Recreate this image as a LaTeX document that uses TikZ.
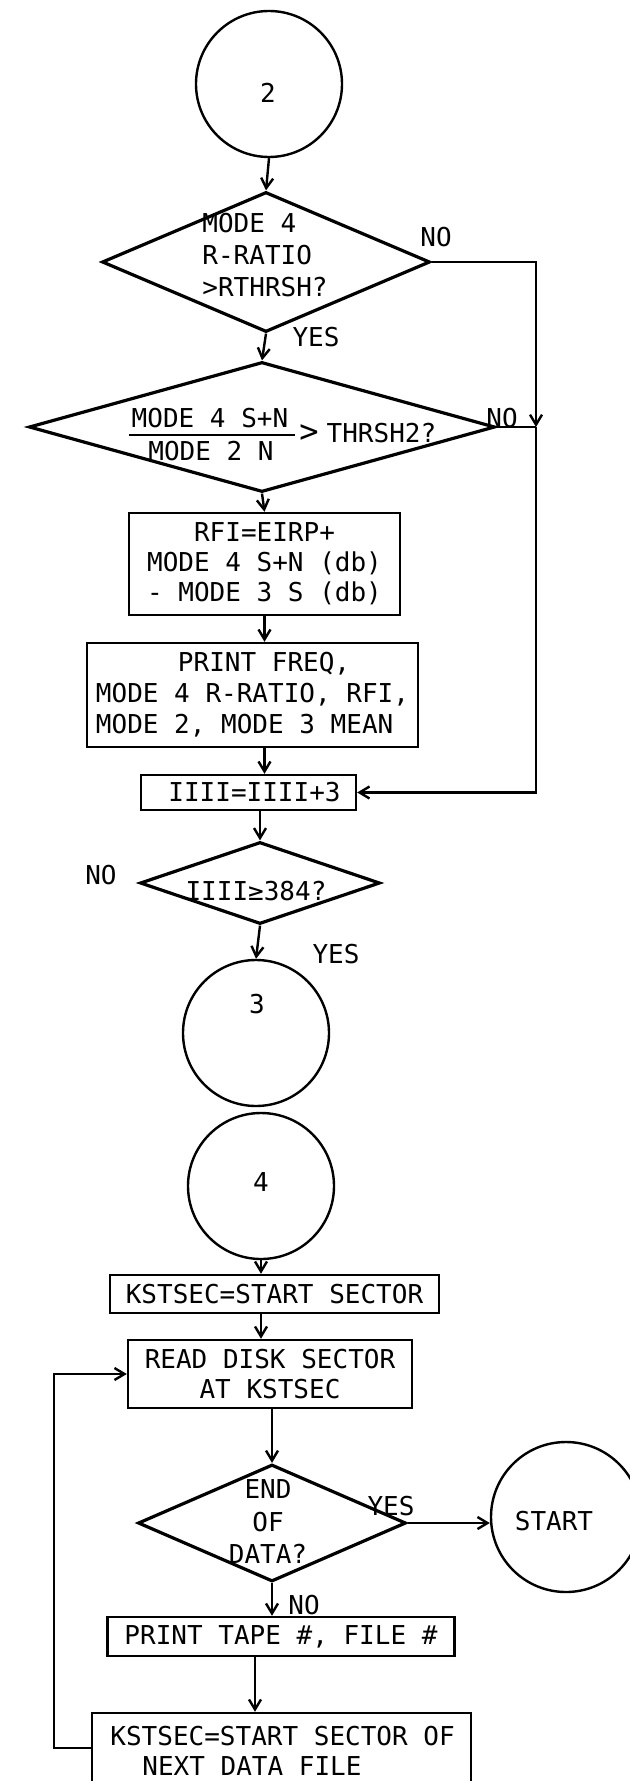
\documentclass[tikz,border=0pt]{standalone}
\usepackage{fontspec}
\newfontfamily\tw{DejaVu Sans Mono}
\usetikzlibrary{shapes.geometric,arrows.meta}
\begin{document}
\begin{tikzpicture}[x=0.5pt,y=-0.5pt,
  every node/.style={font=\fontsize{13pt}{16pt}\tw, inner sep=0pt},
  ln/.style={line width=1.2pt},
  arr/.style={ln,-{Straight Barb[length=5pt,width=6pt]}},
  conn/.style={draw,ln,circle,minimum size=73pt},
  dec/.style={draw,line width=1.6pt,diamond,inner sep=0pt},
  proc/.style={draw,ln,rectangle,inner sep=0pt},
  bx15/.style={font=\fontsize{13pt}{15pt}\tw}
]
\useasboundingbox (0,0) rectangle (629,1781);
\fill[white] (0,0) rectangle (629,1781);

% connector 2
\node[conn] (c2) at (269,84) {};
\node (t2) at (268,93) {2};

% decision 1
\node[dec, minimum width=164pt, minimum height=70pt] (d1) at (266,262) {};
\node[align=left, anchor=west] (d1t) at (202,255) {MODE 4\\R-RATIO\\>RTHRSH?};

% decision 2
\node[dec, minimum width=233pt, minimum height=65pt] (d2) at (262,427) {};
\node (d2a) at (210,418) {MODE 4 S+N};
\node (d2b) at (211,451) {MODE 2 N};
\draw[line width=0.9pt] ([xshift=-1pt,yshift=-3.3pt]d2a.south west) -- ([xshift=3pt,yshift=-3.3pt]d2a.south east);
\node[anchor=west] (d2c) at (299,433) {{\fontsize{16pt}{16pt}\tw >}\hspace{4pt}THRSH2?};

% process boxes
\node[proc, bx15, align=center, minimum width=135.5pt, minimum height=51pt] (b1) at (264.5,564)
  {RFI=EIRP+\\MODE 4 S+N (db)\\- MODE 3 S (db)};
\node[proc, font=\fontsize{13pt}{15.5pt}\tw, align=left, minimum width=165.5pt, minimum height=52pt] (b2) at (252.5,695)
  {\hspace*{41pt}PRINT FREQ,\\MODE 4 R-RATIO, RFI,\\MODE 2, MODE 3 MEAN};
\node[proc, minimum width=107.5pt, minimum height=17.5pt] (b3) at (248.5,792.5) {\hspace*{6pt}IIII=IIII+3};

% decision 3
\node[dec, minimum width=120pt, minimum height=41pt] (d3) at (260,883) {};
\node (d3t) at (256,891) {IIII≥384?};

% connectors 3 and 4
\node[conn] (c3) at (256,1033) {};
\node (t3) at (257,1004) {3};
\node[conn] (c4) at (261,1186) {};
\node (t4) at (261,1182) {4};

\node[proc, minimum width=164.5pt, minimum height=19pt] (b4) at (274.5,1294) {KSTSEC=START SECTOR};
\node[proc, bx15, align=center, minimum width=142pt, minimum height=34pt] (b5) at (270,1374) {READ DISK SECTOR\\AT KSTSEC};

% decision 4
\node[dec, minimum width=134pt, minimum height=58.5pt] (d4) at (272,1523) {};
\node[align=center, font=\fontsize{13pt}{16.25pt}\tw] (d4t) at (268,1522) {END\\OF\\DATA?};

% start connector
\node[conn, minimum size=75pt] (cS) at (566,1517) {};
\node (tS) at (554,1521) {START};

\node[proc, minimum width=173.5pt, minimum height=19.5pt] (b6) at (281,1636.5) {PRINT TAPE \#, FILE \#};
\node[proc, minimum width=189.5pt, minimum height=44pt] (b7) at (281.5,1757) {};
\node[bx15, align=left, anchor=north west] (b7t) at (110,1725.5) {KSTSEC=START SECTOR OF\\\hspace*{16pt}NEXT DATA FILE};

% flow connectors
\draw[arr] (c2.south) -- (d1.north);
\draw[arr] (d1.south) -- (d2.north);
\draw[arr] (d2.south) -- (b1.north);
\draw[arr] (b1.south) -- (b1.south |- b2.north);
\draw[arr] (b1.south |- b2.south) -- (b1.south |- b3.north);
\draw[arr] (d3.north |- b3.south) -- (d3.north);
\draw[arr] (d3.south) -- (c3.north);
\draw[arr] (c4.south) -- (c4.south |- b4.north);
\draw[arr] (c4.south |- b4.south) -- (c4.south |- b5.north);
\draw[arr] (d4.north |- b5.south) -- (d4.north);
\draw[arr] (d4.east) -- (d4.east -| cS.west);
\draw[arr] (d4.south) -- (d4.south |- b6.north);
\draw[arr] ([xshift=-13pt]b6.south) -- ([xshift=-13pt]b6.south |- b7.north);

% NO loop on the right
\coordinate (rj) at (536,427);
\draw[arr] (d1.east) -| (rj);
\draw[ln] (d2.east) -- (rj);
\draw[arr] (rj) |- (b3.east);

% loop on the left
\coordinate (lp) at (54,1748);
\draw[arr] (b7.west |- lp) -- (lp) |- (b5.west);

% branch labels
\node (l1) at (436,237.5) {NO};
\node (l2) at (316,337) {YES};
\node (l3) at (502,418) {NO};
\node (l4) at (101,875) {NO};
\node (l5) at (336,954) {YES};
\node (l6) at (391,1506) {YES};
\node (l7) at (304,1605) {NO};
\end{tikzpicture}
\end{document}
